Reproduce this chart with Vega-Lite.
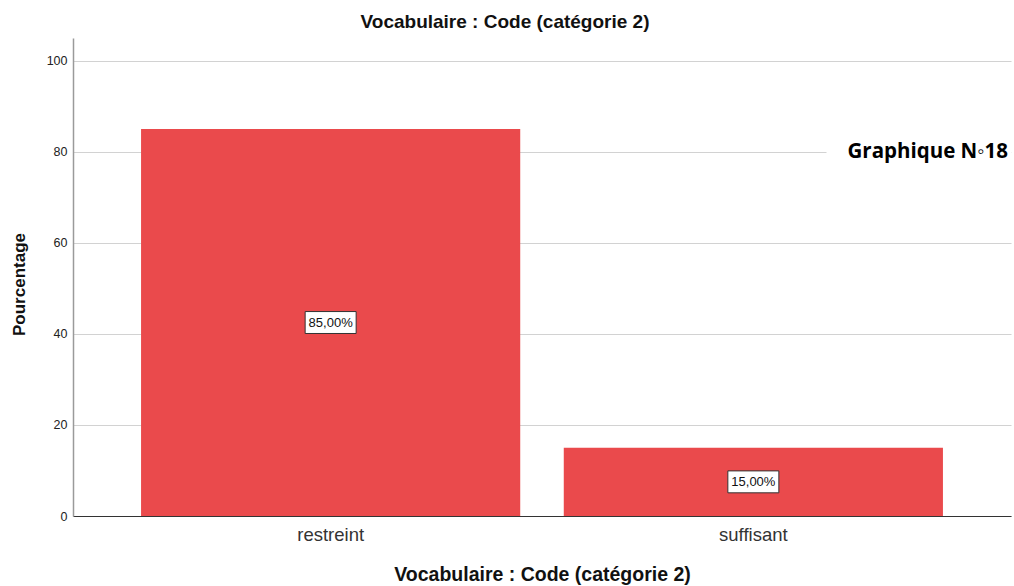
{
  "$schema": "https://vega.github.io/schema/vega-lite/v6.json",
  "width": 938,
  "height": 478,
  "autosize": {"type": "none"},
  "padding": {"left": 73, "top": 38, "right": 3, "bottom": 70},
  "background": "white",
  "title": {
    "text": "Vocabulaire : Code (catégorie 2)",
    "font": "Liberation Sans",
    "fontSize": 19,
    "fontWeight": "bold",
    "color": "#111111",
    "anchor": "middle",
    "dx": -37,
    "offset": 6
  },
  "config": {
    "view": {"stroke": null},
    "axis": {"labelFont": "Liberation Sans", "titleFont": "Liberation Sans"}
  },
  "data": {
    "values": [
      {"cat": "restreint", "pct": 85, "label": "85,00%"},
      {"cat": "suffisant", "pct": 15, "label": "15,00%"}
    ]
  },
  "encoding": {
    "x": {
      "field": "cat",
      "type": "nominal",
      "sort": null,
      "scale": {"paddingInner": 0.103, "paddingOuter": 0.161},
      "axis": {
        "title": "Vocabulaire : Code (catégorie 2)",
        "titleFontSize": 19.5,
        "titleFontWeight": "bold",
        "titleColor": "#111111",
        "titlePadding": 22,
        "labelAngle": 0,
        "labelFontSize": 18.5,
        "labelColor": "#333333",
        "labelPadding": 9,
        "ticks": false,
        "domainColor": "#333333",
        "domainWidth": 1
      }
    }
  },
  "layer": [
    {
      "mark": {"type": "bar", "color": "#EA4A4C"},
      "encoding": {
        "y": {
          "field": "pct",
          "type": "quantitative",
          "scale": {"domain": [0, 105], "nice": false},
          "axis": {
            "title": "Pourcentage",
            "titleFontSize": 17,
            "titleFontWeight": "bold",
            "titleColor": "#111111",
            "titlePadding": 18,
            "titleY": 246,
            "values": [0, 20, 40, 60, 80, 100],
            "labelFontSize": 12.5,
            "labelColor": "#222222",
            "labelPadding": 6,
            "ticks": false,
            "grid": true,
            "gridColor": "#D2D2D2",
            "gridWidth": 1.2,
            "domainColor": "#9A9A9A",
            "domainWidth": 1.5
          }
        }
      }
    },
    {
      "transform": [{"calculate": "datum.pct / 2", "as": "mid"}],
      "mark": {
        "type": "point",
        "shape": "M-1,-0.43H1V0.43H-1Z",
        "size": 2601,
        "filled": true,
        "fill": "white",
        "stroke": "#333333",
        "strokeWidth": 1,
        "opacity": 1
      },
      "encoding": {
        "y": {"field": "mid", "type": "quantitative"}
      }
    },
    {
      "transform": [{"calculate": "datum.pct / 2", "as": "mid"}],
      "mark": {"type": "text", "font": "Liberation Sans", "fontSize": 13, "color": "#111111", "baseline": "middle", "align": "center"},
      "encoding": {
        "y": {"field": "mid", "type": "quantitative"},
        "text": {"field": "label"}
      }
    },
    {
      "data": {"values": [{"note": "Graphique N◦18", "v": 80}]},
      "mark": {"type": "point", "shape": "M-1,-0.12H1V0.12H-1Z", "size": 34225, "filled": true, "fill": "white", "stroke": null, "opacity": 1, "x": {"expr": "width - 92"}},
      "encoding": {
        "x": null,
        "y": {"field": "v", "type": "quantitative"}
      }
    },
    {
      "data": {"values": [{"note": "Graphique N◦18", "v": 80}]},
      "mark": {"type": "text", "font": "Open Sans", "fontSize": 20.5, "fontWeight": "bold", "align": "right", "baseline": "middle", "color": "#000000", "x": {"expr": "width - 3"}},
      "encoding": {
        "x": null,
        "y": {"field": "v", "type": "quantitative"},
        "text": {"field": "note"}
      }
    }
  ]
}
